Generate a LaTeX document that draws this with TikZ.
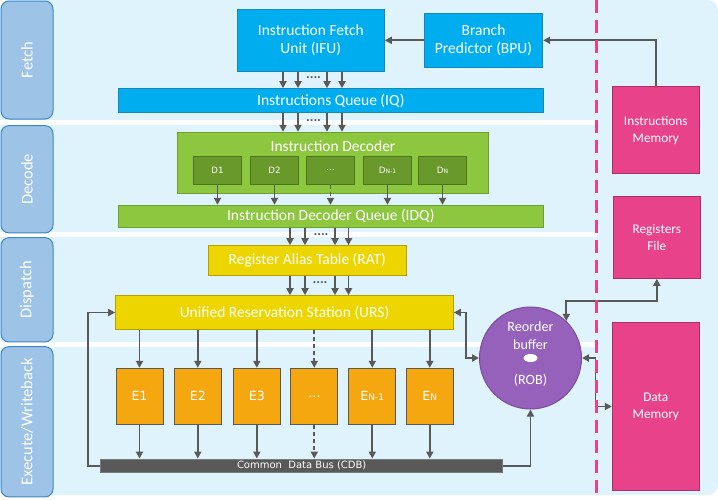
\documentclass[tikz,border=0pt]{standalone}
\usepackage{fontspec}
\setmainfont{Carlito}
\newfontfamily\vfont{DejaVu Sans}
\usetikzlibrary{arrows.meta}
\definecolor{bg}{HTML}{DFF3FC}
\definecolor{sb}{HTML}{9DC3E6}
\definecolor{sbd}{HTML}{3C87C8}
\definecolor{cy}{HTML}{00AEEF}
\definecolor{cyd}{HTML}{1B86B5}
\definecolor{lg}{HTML}{8DC63F}
\definecolor{lgd}{HTML}{6FA02E}
\definecolor{dg}{HTML}{69992A}
\definecolor{dgd}{HTML}{4D7520}
\definecolor{yl}{HTML}{EDD500}
\definecolor{yld}{HTML}{B5A000}
\definecolor{og}{HTML}{F5A70F}
\definecolor{gy}{HTML}{595959}
\definecolor{pu}{HTML}{9561BA}
\definecolor{pud}{HTML}{7A4C9E}
\definecolor{pk}{HTML}{E7428A}
\definecolor{pkd}{HTML}{B02E68}
\newcommand{\lo}[2]{{\fontsize{#1}{#1}\selectfont #2}}
\tikzset{%
  box/.style={draw, line width=1pt, inner sep=0pt, text=white, align=center},
  stagebox/.style={box, fill=sb, draw=sbd, rounded corners=8pt, rotate=90,
    minimum height=52, font=\fontsize{16.5}{18}\selectfont},
  bluebox/.style={box, fill=cy, draw=cyd},
  greenbox/.style={box, fill=lg, draw=lgd},
  dbox/.style={box, fill=dg, draw=dgd, minimum width=48.4, minimum height=28.3,
    font=\vfont\fontsize{8.7}{10}\selectfont},
  yellowbox/.style={box, fill=yl, draw=yld},
  ebox/.style={box, fill=og, draw=gy, minimum width=47, minimum height=56,
    font=\vfont\fontsize{12.6}{14}\selectfont},
  memo/.style={box, fill=pk, draw=pkd, minimum width=87,
    font=\fontsize{13.3}{17}\selectfont},
  dots/.style={inner sep=0pt, text=gy, font=\fontsize{14}{14}\selectfont\bfseries},
  arr/.style={draw=gy, line width=1.8pt, -{Triangle[length=7pt,width=7pt]}},
  barr/.style={draw=gy, line width=1.8pt,
    {Triangle[length=7pt,width=7pt]}-{Triangle[length=7pt,width=7pt]}},
  shortdash/.style={dash pattern=on 4pt off 3pt}
}
\begin{document}
\begin{tikzpicture}[x=1pt,y=-1pt,font=\fontsize{15.5}{17.6}\selectfont]
\useasboundingbox (0,0) rectangle (718,499);
\fill[bg, rounded corners=10pt] (0,0) rectangle (718,495);
\foreach \y in {120,232,342}
  \fill[white] (0,\y) rectangle (597,\y+4.7);

% stages
\node[stagebox, minimum width=118] (fetch) at (27,60) {Fetch};
\node[stagebox, minimum width=107.3] (decode) at (27,179.3) {Decode};
\node[stagebox, minimum width=104.3] (dispatch) at (27,289.8) {Dispatch};
\node[stagebox, minimum width=150.3] (exec) at (27,421.8) {Execute/Writeback};

% fetch
\node[bluebox, minimum width=147, minimum height=62] (ifu) at (310.8,40.3)
  {Instruction Fetch\\Unit (IFU)};
\node[bluebox, minimum width=118.4, minimum height=54] (bpu) at (483.5,40.3)
  {Branch\\Predictor (BPU)};
\node[bluebox, minimum width=425, minimum height=24] (iq) at (330.8,100.7)
  {Instructions Queue (IQ)};

% decode
\node[greenbox, minimum width=311.4, minimum height=61] (dec) at (333,162.8) {};
\node[inner sep=0pt, text=white] (dectl) at (333,146) {Instruction Decoder};
\foreach \x/\t [count=\i] in {217.5/D1, 274.5/D2, 330.5/\ldots,
    387.5/D\lo{6}{N-1}, 442.5/D\lo{6}{N}}
  \node[dbox] (d\i) at (\x,170.2) {\t};
\node[greenbox, minimum width=425, minimum height=22] (idq) at (330.8,216.3)
  {Instruction Decoder Queue (IDQ)};

% dispatch
\node[yellowbox, minimum width=198, minimum height=29.6] (rat) at (307.3,260.5)
  {Register Alias Table (RAT)};
\node[yellowbox, minimum width=337.6, minimum height=33.6] (urs) at (284.5,312.5)
  {Unified Reservation Station (URS)};

% execute
\foreach \x/\t [count=\i] in {139.5/E1, 197.8/E2, 256.8/E3, 314.3/\ldots,
    372.3/E\lo{9}{N-1}, 429.8/E\lo{9}{N}}
  \node[ebox] (e\i) at (\x,396.3) {\t};
\node[box, fill=gy, draw=gy!80, minimum width=402, minimum height=13.3,
  font=\vfont\fontsize{10}{10}\selectfont] (cdb) at (301.7,465.7)
  {Common\ \ Data Bus (CDB)};
\node[circle, fill=pu, draw=pud, line width=1pt, minimum size=102, inner sep=0pt]
  (rob) at (530.5,358) {};
\node[inner sep=0pt, text=white, align=center, font=\fontsize{14.2}{17.6}\selectfont]
  (robtxt) at (530.5,335.5) {Reorder\\buffer};
\fill[white] (rob.center) ellipse (7 and 4);
\node[inner sep=0pt, text=white, font=\fontsize{14.2}{17.6}\selectfont]
  (robid) at (530.5,380.7) {(ROB)};

% memories
\node[memo, minimum height=87.3] (im) at (655.8,130.3) {Instructions\\Memory};
\node[memo, minimum height=81.6] (rf) at (656.8,237.5) {Registers\\File};
\node[memo, minimum height=168.4] (dm) at (655.8,406.5) {Data\\Memory};

% connectors
\draw[arr] (bpu.west) -- (ifu.east);
\draw[arr] (im.north) |- (bpu.east);
\foreach \x [count=\i] in {283,298,327,342} {
  \coordinate (f\i) at (\x,0);
  \draw[arr] (f\i |- ifu.south) -- (f\i |- iq.north);
  \draw[arr] (f\i |- iq.south) -- (f\i |- dec.north);
}
\node[dots] (fd1) at (313.5,78) {....};
\node[dots] (fd2) at (313.5,120.5) {....};
\foreach \i in {1,2,4,5}
  \draw[arr] (d\i.south) -- (d\i.south |- idq.north);
\draw[arr, shortdash] (d3.south) -- (d3.south |- idq.north);
\foreach \x [count=\i] in {290,305,335,348.5} {
  \coordinate (r\i) at (\x,0);
  \draw[arr] (r\i |- idq.south) -- (r\i |- rat.north);
  \draw[arr] (r\i |- rat.south) -- (r\i |- urs.north);
}
\node[dots] (rd1) at (321,235) {....};
\node[dots] (rd2) at (320,282.5) {....};
\foreach \i in {1,2,3,5,6} {
  \draw[arr] (e\i.north |- urs.south) -- (e\i.north);
  \draw[arr] (e\i.south) -- (e\i.south |- cdb.north);
}
\draw[arr, shortdash] (e4.north |- urs.south) -- (e4.north);
\draw[arr, shortdash] (e4.south) -- (e4.south |- cdb.north);
\draw[arr] (cdb.west) -- ++(-12.4,0) |- (urs.west);
\draw[arr] (cdb.east) -| (rob.south);
\draw[barr] (urs.east) -- ++(12,0) |- (rob.west);
\draw[barr] (rob.east) -- ++(13.5,0) |- (dm.west);
\draw[barr] (rf.south) -- ++(0,22.4) -| (rob.46);

\draw[pk, line width=3pt, dash pattern=on 13pt off 7pt] (596,0) -- (596,499);
\end{tikzpicture}
\end{document}
